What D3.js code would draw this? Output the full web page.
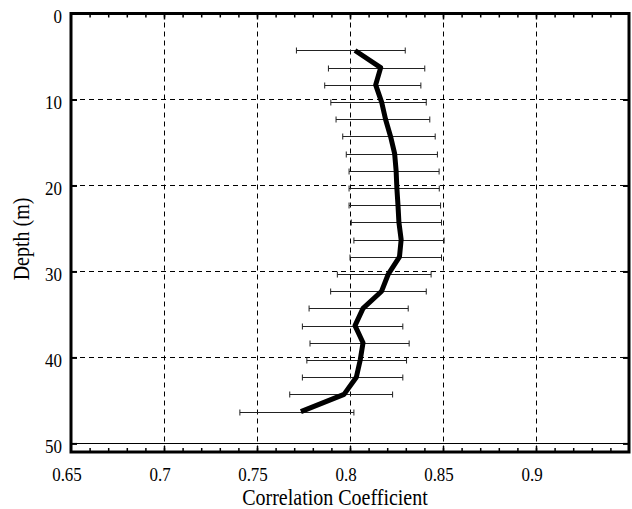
<!DOCTYPE html>
<html>
<head>
<meta charset="utf-8">
<script src="https://cdn.jsdelivr.net/npm/d3@7"></script>
<style>
  html, body { margin: 0; padding: 0; background: #fff; }
  svg { display: block; }
</style>
</head>
<body>
<div id="chart"></div>
<script>
// Correlation coefficient profile with depth
const depth = [4.3, 6.3, 8.3, 10.3, 12.3, 14.3, 16.3, 18.3, 20.3, 22.3, 24.3,
               26.3, 28.3, 30.3, 32.3, 34.3, 36.3, 38.3, 40.3, 42.3, 44.3, 46.3];
const corr = [0.8027, 0.8165, 0.8138, 0.8170, 0.8191, 0.8218, 0.8240, 0.8248, 0.8252, 0.8258, 0.8263,
              0.8275, 0.8266, 0.8206, 0.8170, 0.8070, 0.8027, 0.8070, 0.8055, 0.8034, 0.7968, 0.7736];
const lower = [0.7712, 0.7884, 0.7864, 0.7897, 0.7925, 0.7961, 0.7980, 0.7995, 0.7995, 0.7995, 0.8007,
               0.8021, 0.8000, 0.7932, 0.7896, 0.7780, 0.7744, 0.7785, 0.7768, 0.7744, 0.7676, 0.7408];
const upper = [0.8297, 0.8402, 0.8381, 0.8410, 0.8429, 0.8458, 0.8470, 0.8479, 0.8480, 0.8487, 0.8492,
               0.8506, 0.8492, 0.8436, 0.8410, 0.8313, 0.8284, 0.8318, 0.8304, 0.8284, 0.8229, 0.8021];

const xTicks = [0.65, 0.7, 0.75, 0.8, 0.85, 0.9];
const xTickLabels = ["0.65", "0.7", "0.75", "0.8", "0.85", "0.9"];
const yTicks = [0, 10, 20, 30, 40, 50];
const xGrid = [0.7, 0.75, 0.8, 0.85, 0.9];
const yGrid = [10, 20, 30, 40];
const xLabel = "Correlation Coefficient";
const yLabel = "Depth (m)";

const FONT = "'Liberation Serif', 'Times New Roman', 'DejaVu Serif', serif";
const W = 632, H = 509;
const pL = 71, pR = 629, pT = 13.5, pB = 452;
const stretch = 1.12;

const svg = d3.select("#chart").append("svg").attr("width", W).attr("height", H);

const x = d3.scaleLinear().domain([0.65, 0.95]).range([pL, pR]);
const y = d3.scaleLinear().domain([0, 51]).range([pT, pB]);

// dashed grid
svg.append("g").selectAll("line").data(xGrid).join("line")
  .attr("x1", d => Math.round(x(d)) + 0.5).attr("x2", d => Math.round(x(d)) + 0.5)
  .attr("y1", pT).attr("y2", pB)
  .attr("stroke", "#000").attr("stroke-width", 1).attr("stroke-dasharray", "5,4");
svg.append("g").selectAll("line").data(yGrid).join("line")
  .attr("x1", pL).attr("x2", pR)
  .attr("y1", d => Math.round(y(d)) + 0.5).attr("y2", d => Math.round(y(d)) + 0.5)
  .attr("stroke", "#000").attr("stroke-width", 1).attr("stroke-dasharray", "5,4");

// solid line at 50 m
svg.append("line")
  .attr("x1", pL).attr("x2", pR)
  .attr("y1", Math.round(y(50)) + 0.5).attr("y2", Math.round(y(50)) + 0.5)
  .attr("stroke", "#000").attr("stroke-width", 1);

// inward ticks via d3 axes
const minorX = d3.range(66, 95).map(i => i / 100);
function strip(g) { g.select(".domain").remove(); }
svg.append("g").attr("transform", `translate(0,${pB})`)
  .call(d3.axisTop(x).tickValues(minorX).tickSize(4).tickFormat("")).call(strip)
  .selectAll("line").attr("stroke-width", 1.5);
svg.append("g").attr("transform", `translate(0,${pT})`)
  .call(d3.axisBottom(x).tickValues(minorX).tickSize(4).tickFormat("")).call(strip)
  .selectAll("line").attr("stroke-width", 1.5);
svg.append("g").attr("transform", `translate(0,${pB})`)
  .call(d3.axisTop(x).tickValues(xGrid).tickSize(6).tickFormat("")).call(strip)
  .selectAll("line").attr("stroke-width", 1.5);
svg.append("g").attr("transform", `translate(0,${pT})`)
  .call(d3.axisBottom(x).tickValues(xGrid).tickSize(6).tickFormat("")).call(strip)
  .selectAll("line").attr("stroke-width", 1.5);
svg.append("g").attr("transform", `translate(${pL},0)`)
  .call(d3.axisRight(y).tickValues(yTicks).tickSize(6).tickFormat("")).call(strip)
  .selectAll("line").attr("stroke-width", 2);
svg.append("g").attr("transform", `translate(${pR},0)`)
  .call(d3.axisLeft(y).tickValues(yTicks).tickSize(6).tickFormat("")).call(strip)
  .selectAll("line").attr("stroke-width", 2);

// error bars
const eb = svg.append("g").attr("stroke", "#222").attr("stroke-width", 1);
depth.forEach((d, i) => {
  const yy = Math.round(y(d)) + 0.5;
  eb.append("line").attr("x1", x(lower[i])).attr("x2", x(upper[i])).attr("y1", yy).attr("y2", yy);
  eb.append("line").attr("x1", x(lower[i])).attr("x2", x(lower[i])).attr("y1", yy - 3).attr("y2", yy + 3);
  eb.append("line").attr("x1", x(upper[i])).attr("x2", x(upper[i])).attr("y1", yy - 3).attr("y2", yy + 3);
});

// mean profile
const line = d3.line().x((d, i) => x(corr[i])).y(d => y(d));
svg.append("path").datum(depth).attr("d", line)
  .attr("fill", "none").attr("stroke", "#000").attr("stroke-width", 5)
  .attr("stroke-linejoin", "round");

// frame
svg.append("rect").attr("x", pL).attr("y", pT).attr("width", pR - pL).attr("height", pB - pT)
  .attr("fill", "none").attr("stroke", "#000").attr("stroke-width", 3);

// tick labels
svg.append("g").attr("font-family", FONT).attr("font-size", 17).attr("fill", "#000")
  .selectAll("text").data(xTicks).join("text")
  .attr("transform", d => `translate(${x(d) - 4},481) scale(1,${stretch})`)
  .attr("text-anchor", "middle")
  .text((d, i) => xTickLabels[i]);
svg.append("g").attr("font-family", FONT).attr("font-size", 17).attr("fill", "#000")
  .selectAll("text").data(yTicks).join("text")
  .attr("transform", d => `translate(62,${y(d) + 9.5}) scale(1,${stretch})`)
  .attr("text-anchor", "end")
  .text(d => d);

// axis titles
svg.append("text").attr("font-family", FONT).attr("font-size", 20).attr("fill", "#000")
  .attr("transform", `translate(335,505) scale(1,${stretch})`)
  .attr("text-anchor", "middle").text(xLabel);
svg.append("text").attr("font-family", FONT).attr("font-size", 20).attr("fill", "#000")
  .attr("transform", `translate(29,239) scale(${stretch},1) rotate(-90)`)
  .attr("text-anchor", "middle").text(yLabel);
</script>
</body>
</html>
